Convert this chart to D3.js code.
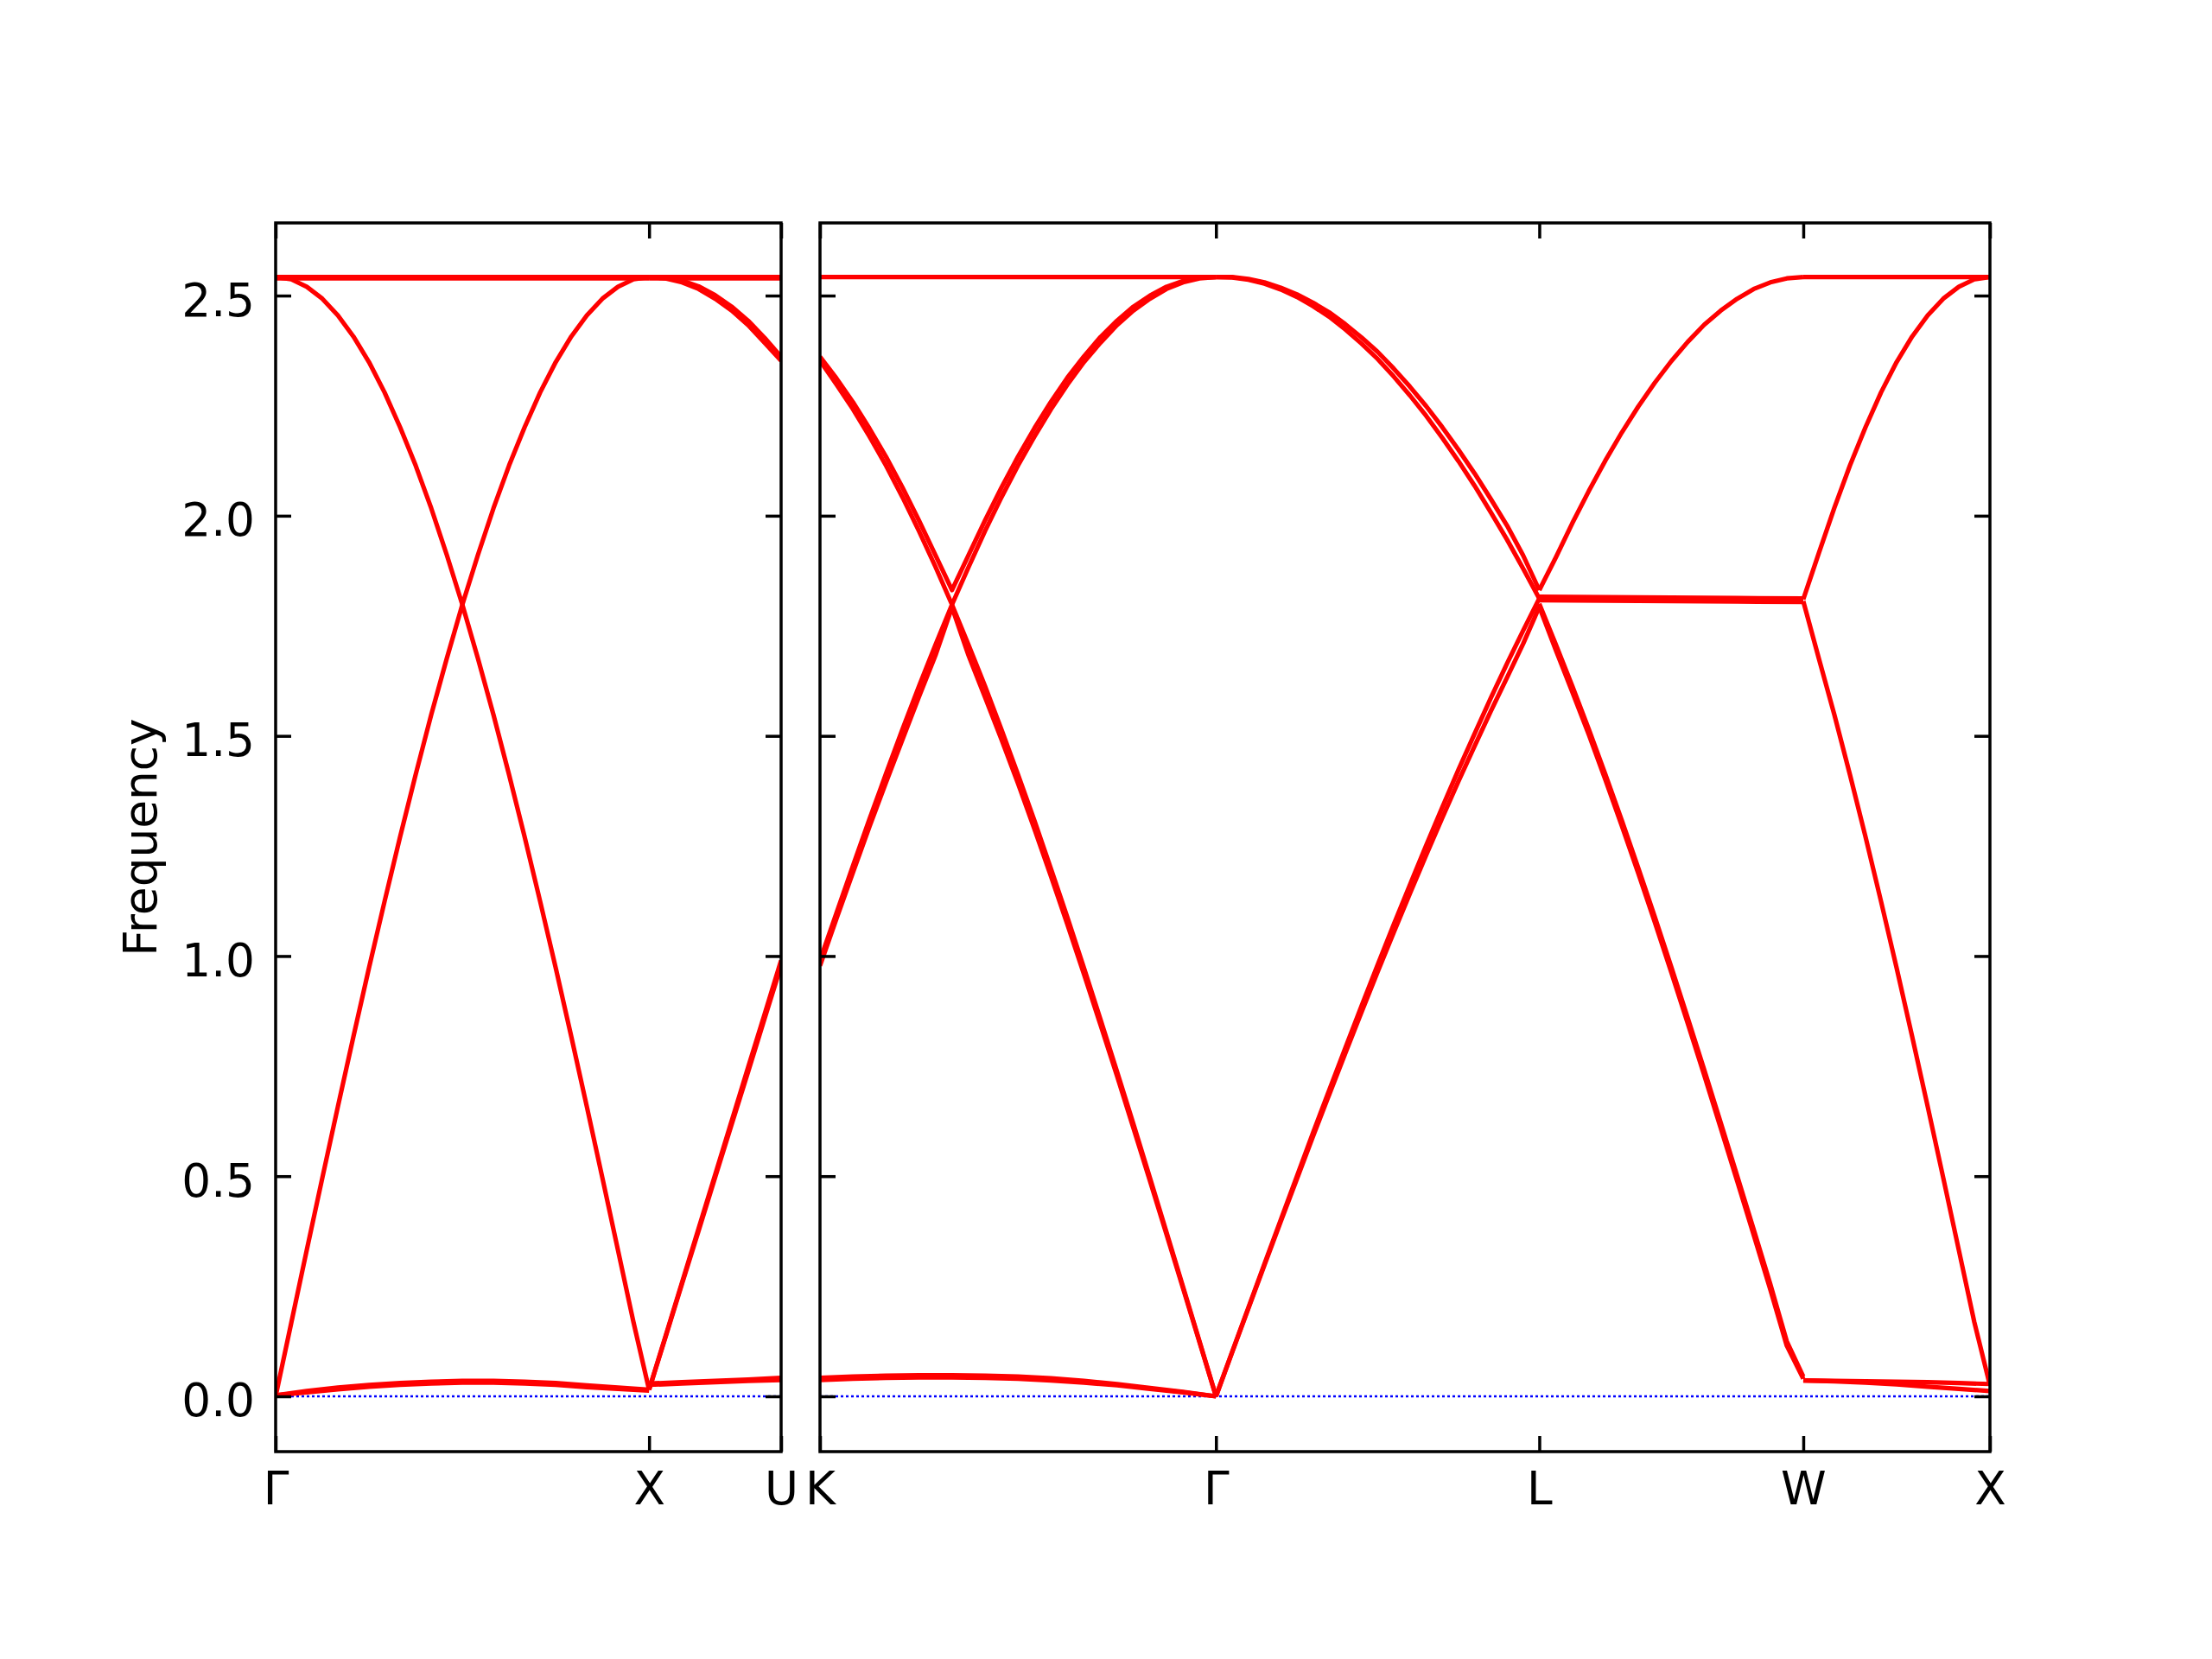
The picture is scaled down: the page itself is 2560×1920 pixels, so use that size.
<!DOCTYPE html>
<html><head><meta charset="utf-8">
<script src="https://cdn.jsdelivr.net/npm/d3@7"></script>
<style>html,body{margin:0;padding:0;background:#fff;} svg{display:block;}</style>
</head><body>
<svg id="chart" width="2560" height="1920"></svg>
<script>
// ---------------- DATA ----------------
const yTicks = [0, 0.5, 1.0, 1.5, 2.0, 2.5];
const yTickLabels = ["0.0", "0.5", "1.0", "1.5", "2.0", "2.5"];
const yDomain = [-0.1256, 2.665];
const yLabel = "Frequency";

const leftLabels = ["Γ", "X", "U"];
const leftSegLengths = [1.0, 0.35355];
const rightLabels = ["K", "Γ", "L", "W", "X"];
const rightSegLengths = [1.06066, 0.86603, 0.70711, 0.5];

// band values per path segment (each curve evenly sampled along its segment)
const GX_bands = [
  [2.542, 2.542],
  [2.539, 2.539],
  [2.542, 2.537, 2.520, 2.493, 2.455, 2.407, 2.349, 2.280, 2.201, 2.114, 2.017, 1.911, 1.798, 1.676, 1.548, 1.412, 1.271, 1.124, 0.973, 0.817, 0.658, 0.496, 0.332, 0.168, 0.015],
  [0, 0.166, 0.332, 0.496, 0.658, 0.817, 0.973, 1.124, 1.271, 1.412, 1.548, 1.676, 1.798, 1.911, 2.017, 2.114, 2.201, 2.280, 2.349, 2.407, 2.455, 2.493, 2.520, 2.537, 2.542],
  [0.002, 0.009, 0.016, 0.022, 0.026, 0.029, 0.031, 0.031, 0.029, 0.026, 0.021, 0.017, 0.013],
  [0.002, 0.012, 0.020, 0.026, 0.030, 0.033, 0.035, 0.035, 0.033, 0.030, 0.025, 0.020, 0.015]
];
const XU_bands = [
  [2.542, 2.542],
  [2.539, 2.539],
  [2.542, 2.539, 2.530, 2.515, 2.493, 2.466, 2.433, 2.393, 2.352],
  [2.542, 2.540, 2.534, 2.521, 2.501, 2.475, 2.443, 2.404, 2.361],
  [0.015, 0.137, 0.259, 0.381, 0.503, 0.625, 0.747, 0.868, 0.990],
  [0.015, 0.135, 0.256, 0.376, 0.497, 0.617, 0.737, 0.858, 0.978],
  [0.026, 0.029, 0.032, 0.035, 0.037],
  [0.029, 0.032, 0.035, 0.038, 0.042]
];
const KG_bands = [
  [2.542, 2.542],
  [0.990, 1.098, 1.205, 1.311, 1.414, 1.515, 1.613, 1.707, 1.798, 1.883, 1.965, 2.042, 2.114, 2.180, 2.242, 2.298, 2.349, 2.393, 2.433, 2.466, 2.493, 2.515, 2.530, 2.539, 2.542],
  [2.352, 2.298, 2.242, 2.180, 2.114, 2.042, 1.965, 1.884, 1.798, 1.707, 1.613, 1.514, 1.412, 1.307, 1.198, 1.087, 0.973, 0.856, 0.738, 0.618, 0.496, 0.373, 0.249, 0.125, 0],
  [2.361, 2.312, 2.258, 2.198, 2.134, 2.064, 1.989, 1.910, 1.831, 1.910, 1.989, 2.064, 2.134, 2.199, 2.259, 2.314, 2.362, 2.406, 2.443, 2.475, 2.500, 2.520, 2.533, 2.541, 2.542],
  [0.978, 1.085, 1.190, 1.294, 1.394, 1.492, 1.589, 1.683, 1.792, 1.683, 1.588, 1.492, 1.392, 1.288, 1.181, 1.071, 0.959, 0.844, 0.728, 0.609, 0.489, 0.368, 0.246, 0.123, 0],
  [0.037, 0.040, 0.042, 0.043, 0.043, 0.042, 0.040, 0.036, 0.031, 0.025, 0.017, 0.009, 0],
  [0.042, 0.045, 0.047, 0.048, 0.048, 0.047, 0.045, 0.041, 0.035, 0.028, 0.019, 0.010, 0]
];
const GL_bands = [
  [2.542, 2.542, 2.538, 2.530, 2.518, 2.503, 2.484, 2.462, 2.435, 2.405, 2.372, 2.334, 2.293, 2.249, 2.201, 2.150, 2.096, 2.038, 1.978, 1.910, 1.831],
  [2.542, 2.541, 2.536, 2.527, 2.514, 2.497, 2.476, 2.452, 2.423, 2.391, 2.356, 2.316, 2.273, 2.227, 2.177, 2.124, 2.068, 2.008, 1.946, 1.880, 1.812],
  [0, 0.101, 0.201, 0.301, 0.400, 0.499, 0.598, 0.695, 0.791, 0.886, 0.980, 1.072, 1.162, 1.251, 1.338, 1.423, 1.505, 1.586, 1.664, 1.739, 1.812],
  [0, 0.100, 0.199, 0.298, 0.396, 0.493, 0.590, 0.685, 0.779, 0.872, 0.964, 1.054, 1.142, 1.229, 1.314, 1.397, 1.477, 1.556, 1.632, 1.709, 1.793]
];
const LW_bands = [
  [1.831, 1.905, 1.983, 2.056, 2.125, 2.189, 2.248, 2.302, 2.351, 2.395, 2.434, 2.466, 2.493, 2.515, 2.530, 2.539, 2.542],
  [1.816, 1.815, 1.814, 1.813, 1.812],
  [1.808, 1.807, 1.806, 1.805, 1.804],
  [1.793, 1.695, 1.600, 1.503, 1.401, 1.296, 1.188, 1.077, 0.963, 0.847, 0.729, 0.609, 0.488, 0.366, 0.243, 0.115, 0.040],
  [1.800, 1.708, 1.613, 1.515, 1.413, 1.308, 1.200, 1.089, 0.975, 0.859, 0.741, 0.621, 0.500, 0.378, 0.255, 0.125, 0.045]
];
const WX_bands = [
  [2.542, 2.542],
  [1.810, 1.915, 2.018, 2.114, 2.201, 2.280, 2.349, 2.407, 2.455, 2.493, 2.520, 2.537, 2.542],
  [1.806, 1.676, 1.548, 1.412, 1.271, 1.124, 0.973, 0.817, 0.658, 0.496, 0.332, 0.168, 0.025],
  [0.036, 0.035, 0.034, 0.033, 0.032, 0.030, 0.028],
  [0.036, 0.034, 0.031, 0.027, 0.022, 0.017, 0.012]
];

// ---------------- DRAWING ----------------
const fontFam = "'DejaVu Sans', sans-serif";
const fontSize = "53.3px";
const svg = d3.select("#chart");
svg.append("rect").attr("width", 2560).attr("height", 1920).attr("fill", "#fff");

const plotTop = 258, plotBottom = 1680;
const y = d3.scaleLinear().domain(yDomain).range([plotBottom, plotTop]);

const panels = [
  {x0: 319, x1: 904, lengths: leftSegLengths, segs: [GX_bands, XU_bands], labels: leftLabels, showY: true},
  {x0: 949, x1: 2303, lengths: rightSegLengths, segs: [KG_bands, GL_bands, LW_bands, WX_bands], labels: rightLabels, showY: false}
];

function styleAxis(g) {
  g.select(".domain").remove();
  g.attr("font-family", fontFam).attr("font-size", fontSize);
  g.selectAll(".tick line").attr("stroke", "#000").attr("stroke-width", 3.5);
  g.selectAll(".tick text").attr("fill", "#000");
}

panels.forEach((p, pi) => {
  const total = d3.sum(p.lengths);
  const x = d3.scaleLinear().domain([0, total]).range([p.x0, p.x1]);
  const nodes = [0];
  p.lengths.forEach(l => nodes.push(nodes[nodes.length - 1] + l));

  const clipId = "clip" + pi;
  svg.append("clipPath").attr("id", clipId).append("rect")
    .attr("x", p.x0).attr("y", plotTop).attr("width", p.x1 - p.x0).attr("height", plotBottom - plotTop);

  const gPlot = svg.append("g").attr("clip-path", `url(#${clipId})`);

  // zero line (blue dotted)
  gPlot.append("line")
    .attr("x1", x(0)).attr("x2", x(total))
    .attr("y1", y(0)).attr("y2", y(0))
    .attr("stroke", "#0000ff").attr("stroke-width", 2.5)
    .attr("stroke-dasharray", "3,3");

  const line = d3.line().x(d => x(d[0])).y(d => y(d[1])).curve(d3.curveLinear);

  p.segs.forEach((seg, si) => {
    const start = nodes[si], len = p.lengths[si];
    seg.forEach(curve => {
      const n = curve.length;
      const pts = curve.map((v, j) => [start + len * j / (n - 1), v]);
      gPlot.append("path")
        .attr("d", line(pts))
        .attr("fill", "none")
        .attr("stroke", "#ff0000")
        .attr("stroke-width", 5.2)
        .attr("stroke-linejoin", "round")
        .attr("stroke-linecap", "butt");
    });
  });

  // axes
  const gL = svg.append("g").attr("transform", `translate(${p.x0},0)`)
    .call(d3.axisLeft(y).tickValues(yTicks).tickSize(-18).tickPadding(24)
      .tickFormat((d, i) => p.showY ? yTickLabels[i] : ""));
  styleAxis(gL);
  gL.selectAll(".tick text").attr("dy", "0.43em");

  const gR = svg.append("g").attr("transform", `translate(${p.x1},0)`)
    .call(d3.axisRight(y).tickValues(yTicks).tickSize(-18).tickFormat(() => ""));
  styleAxis(gR);

  const gB = svg.append("g").attr("transform", `translate(0,${plotBottom})`)
    .call(d3.axisBottom(x).tickValues(nodes).tickSize(-18).tickPadding(23)
      .tickFormat((d, i) => p.labels[i]));
  styleAxis(gB);

  const gT = svg.append("g").attr("transform", `translate(0,${plotTop})`)
    .call(d3.axisTop(x).tickValues(nodes).tickSize(-18).tickFormat(() => ""));
  styleAxis(gT);

  // frame
  svg.append("rect")
    .attr("x", p.x0).attr("y", plotTop)
    .attr("width", p.x1 - p.x0).attr("height", plotBottom - plotTop)
    .attr("fill", "none").attr("stroke", "#000").attr("stroke-width", 3.5);
});

svg.append("text")
  .attr("transform", `translate(181,${(plotTop + plotBottom) / 2}) rotate(-90)`)
  .attr("text-anchor", "middle")
  .attr("font-family", fontFam).attr("font-size", fontSize)
  .attr("fill", "#000")
  .text(yLabel);
</script>
</body></html>
